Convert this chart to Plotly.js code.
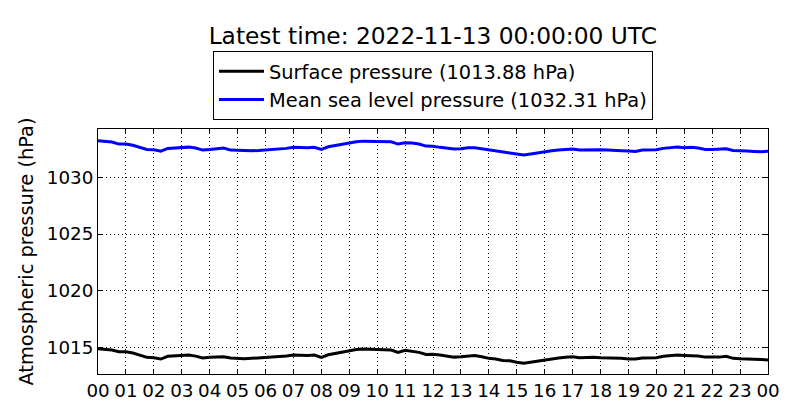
<!DOCTYPE html>
<html>
<head>
<meta charset="utf-8">
<script src="https://cdn.plot.ly/plotly-3.0.1.min.js"></script>
<style>
  body { margin: 0; background: #fff; }
  #plot { width: 800px; height: 420px; }
</style>
</head>
<body>
<div id="plot"></div>
<script>
// 15 minute samples, 2022-11-12 00:00 .. 2022-11-13 00:00 UTC
var times = [
    '2022-11-12 00:00', '2022-11-12 00:15', '2022-11-12 00:30', '2022-11-12 00:45',
    '2022-11-12 01:00', '2022-11-12 01:15', '2022-11-12 01:30', '2022-11-12 01:45',
    '2022-11-12 02:00', '2022-11-12 02:15', '2022-11-12 02:30', '2022-11-12 02:45',
    '2022-11-12 03:00', '2022-11-12 03:15', '2022-11-12 03:30', '2022-11-12 03:45',
    '2022-11-12 04:00', '2022-11-12 04:15', '2022-11-12 04:30', '2022-11-12 04:45',
    '2022-11-12 05:00', '2022-11-12 05:15', '2022-11-12 05:30', '2022-11-12 05:45',
    '2022-11-12 06:00', '2022-11-12 06:15', '2022-11-12 06:30', '2022-11-12 06:45',
    '2022-11-12 07:00', '2022-11-12 07:15', '2022-11-12 07:30', '2022-11-12 07:45',
    '2022-11-12 08:00', '2022-11-12 08:15', '2022-11-12 08:30', '2022-11-12 08:45',
    '2022-11-12 09:00', '2022-11-12 09:15', '2022-11-12 09:30', '2022-11-12 09:45',
    '2022-11-12 10:00', '2022-11-12 10:15', '2022-11-12 10:30', '2022-11-12 10:45',
    '2022-11-12 11:00', '2022-11-12 11:15', '2022-11-12 11:30', '2022-11-12 11:45',
    '2022-11-12 12:00', '2022-11-12 12:15', '2022-11-12 12:30', '2022-11-12 12:45',
    '2022-11-12 13:00', '2022-11-12 13:15', '2022-11-12 13:30', '2022-11-12 13:45',
    '2022-11-12 14:00', '2022-11-12 14:15', '2022-11-12 14:30', '2022-11-12 14:45',
    '2022-11-12 15:00', '2022-11-12 15:15', '2022-11-12 15:30', '2022-11-12 15:45',
    '2022-11-12 16:00', '2022-11-12 16:15', '2022-11-12 16:30', '2022-11-12 16:45',
    '2022-11-12 17:00', '2022-11-12 17:15', '2022-11-12 17:30', '2022-11-12 17:45',
    '2022-11-12 18:00', '2022-11-12 18:15', '2022-11-12 18:30', '2022-11-12 18:45',
    '2022-11-12 19:00', '2022-11-12 19:15', '2022-11-12 19:30', '2022-11-12 19:45',
    '2022-11-12 20:00', '2022-11-12 20:15', '2022-11-12 20:30', '2022-11-12 20:45',
    '2022-11-12 21:00', '2022-11-12 21:15', '2022-11-12 21:30', '2022-11-12 21:45',
    '2022-11-12 22:00', '2022-11-12 22:15', '2022-11-12 22:30', '2022-11-12 22:45',
    '2022-11-12 23:00', '2022-11-12 23:15', '2022-11-12 23:30', '2022-11-12 23:45',
    '2022-11-13 00:00'
];

var surfacePressure = [
    1014.88, 1014.85, 1014.76, 1014.61, 1014.61, 1014.50, 1014.32, 1014.12,
    1014.08, 1013.97, 1014.21, 1014.23, 1014.26, 1014.32, 1014.23, 1014.06,
    1014.12, 1014.17, 1014.17, 1014.06, 1014.03, 1013.99, 1014.03, 1014.06,
    1014.08, 1014.12, 1014.17, 1014.23, 1014.32, 1014.29, 1014.29, 1014.32,
    1014.12, 1014.35, 1014.47, 1014.56, 1014.74, 1014.82, 1014.85, 1014.85,
    1014.82, 1014.79, 1014.76, 1014.56, 1014.74, 1014.67, 1014.56, 1014.38,
    1014.40, 1014.32, 1014.23, 1014.14, 1014.17, 1014.26, 1014.29, 1014.17,
    1014.03, 1013.97, 1013.85, 1013.82, 1013.68, 1013.61, 1013.70, 1013.85,
    1013.94, 1013.99, 1014.06, 1014.12, 1014.17, 1014.08, 1014.12, 1014.12,
    1014.08, 1014.08, 1014.06, 1014.03, 1013.97, 1013.97, 1014.06, 1014.06,
    1014.08, 1014.21, 1014.26, 1014.32, 1014.29, 1014.29, 1014.23, 1014.14,
    1014.12, 1014.14, 1014.21, 1014.03, 1013.99, 1013.99, 1013.97, 1013.94,
    1013.88
];

var seaLevelPressure = [
    1033.23, 1033.20, 1033.12, 1032.94, 1032.94, 1032.83, 1032.65, 1032.47,
    1032.44, 1032.32, 1032.56, 1032.59, 1032.61, 1032.67, 1032.59, 1032.41,
    1032.47, 1032.52, 1032.59, 1032.41, 1032.38, 1032.35, 1032.35, 1032.38,
    1032.41, 1032.44, 1032.50, 1032.56, 1032.65, 1032.61, 1032.61, 1032.65,
    1032.47, 1032.70, 1032.82, 1032.91, 1033.06, 1033.14, 1033.20, 1033.18,
    1033.18, 1033.12, 1033.14, 1032.94, 1033.06, 1033.03, 1032.94, 1032.76,
    1032.74, 1032.65, 1032.59, 1032.50, 1032.52, 1032.61, 1032.61, 1032.52,
    1032.38, 1032.32, 1032.23, 1032.17, 1032.03, 1031.97, 1032.06, 1032.17,
    1032.26, 1032.35, 1032.41, 1032.47, 1032.50, 1032.41, 1032.44, 1032.47,
    1032.44, 1032.41, 1032.41, 1032.35, 1032.32, 1032.29, 1032.41, 1032.41,
    1032.44, 1032.56, 1032.61, 1032.67, 1032.61, 1032.65, 1032.59, 1032.47,
    1032.47, 1032.47, 1032.52, 1032.38, 1032.32, 1032.32, 1032.29, 1032.26,
    1032.31
];

var yTicks = [1015, 1020, 1025, 1030];

var latest = surfacePressure.length - 1;

var traceSurface = {
    x: times,
    y: surfacePressure,
    name: 'Surface pressure (' + surfacePressure[latest].toFixed(2) + ' hPa)',
    mode: 'lines',
    type: 'scatter',
    line: { color: '#000000', width: 3 }
};

var traceSea = {
    x: times,
    y: seaLevelPressure,
    name: 'Mean sea level pressure (' + seaLevelPressure[latest].toFixed(2) + ' hPa)',
    mode: 'lines',
    type: 'scatter',
    line: { color: '#0000ff', width: 3 }
};

var font = 'DejaVu Sans, sans-serif';

var layout = {
    width: 800,
    height: 420,
    margin: { l: 98, r: 32, t: 129, b: 46 },
    paper_bgcolor: '#ffffff',
    plot_bgcolor: '#ffffff',
    font: { family: font, color: '#000000', size: 18 },
    title: {
        text: 'Latest time: 2022-11-13 00:00:00 UTC',
        font: { family: font, size: 23.3, color: '#000000' },
        x: 0.541,
        xanchor: 'center',
        yref: 'container',
        y: 0.914,
        yanchor: 'middle'
    },
    showlegend: true,
    legend: {
        x: 0.5,
        xanchor: 'center',
        y: 1.036,
        yanchor: 'bottom',
        bordercolor: '#000000',
        borderwidth: 1,
        bgcolor: '#ffffff',
        itemwidth: 45,
        font: { family: font, size: 19.4, color: '#000000' }
    },
    xaxis: {
        type: 'date',
        range: ['2022-11-12 00:00', '2022-11-13 00:00'],
        tick0: '2022-11-12 00:00',
        dtick: 3600000,
        tickformat: '%H',
        ticks: 'inside',
        ticklen: 5,
        tickcolor: '#000000',
        mirror: 'allticks',
        showline: true,
        linecolor: '#000000',
        linewidth: 1,
        showgrid: true,
        gridcolor: '#000000',
        gridwidth: 1,
        griddash: '1px,3px',
        zeroline: false,
        tickfont: { family: font, size: 18.3, color: '#000000' }
    },
    yaxis: {
        range: [1012.65, 1034.27],
        tickvals: yTicks,
        ticks: 'inside',
        ticklen: 5,
        tickcolor: '#000000',
        mirror: 'allticks',
        showline: true,
        linecolor: '#000000',
        linewidth: 1,
        showgrid: true,
        gridcolor: '#000000',
        gridwidth: 1,
        griddash: '1px,3px',
        zeroline: false,
        tickfont: { family: font, size: 18.3, color: '#000000' },
        title: {
            text: 'Atmospheric pressure (hPa)',
            font: { family: font, size: 19.4, color: '#000000' },
            standoff: 8
        }
    }
};

var config = {
    staticPlot: true
};

Plotly.newPlot('plot', [traceSurface, traceSea], layout, config);
</script>
</body>
</html>
